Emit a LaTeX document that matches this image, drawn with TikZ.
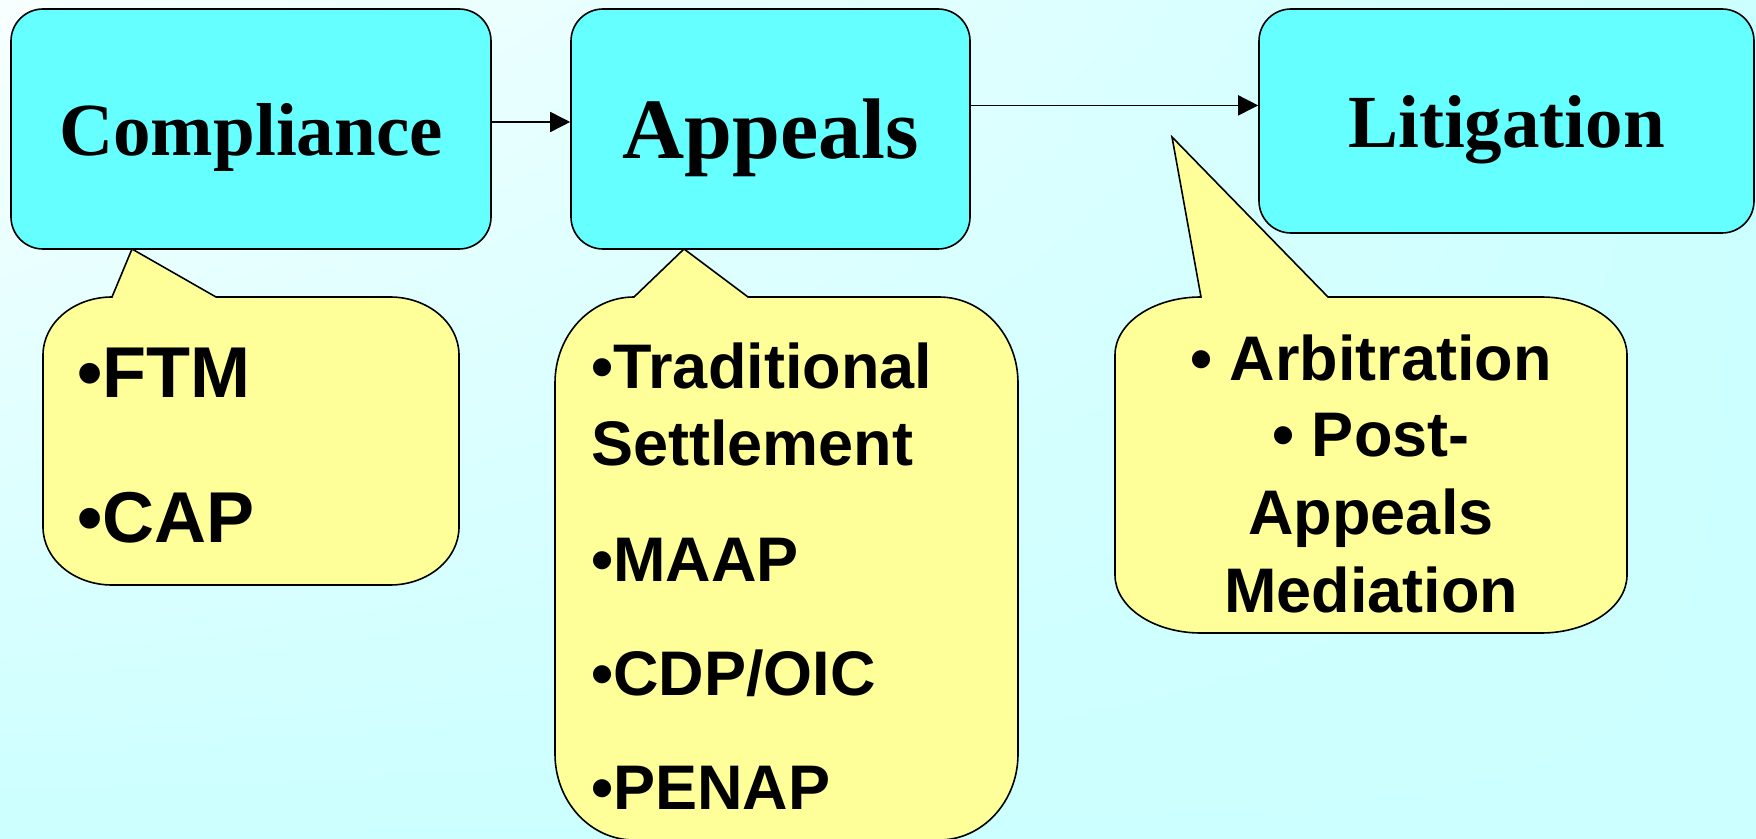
\documentclass[tikz,border=0pt]{standalone}
\usepackage{fontspec}
\setmainfont{Liberation Serif}
\setsansfont{Liberation Sans}
\usetikzlibrary{arrows.meta,shadings}

\definecolor{boxcyan}{HTML}{66FFFF}
\definecolor{noteyellow}{HTML}{FFFF99}
\definecolor{bgcyan}{HTML}{CCFFFF}
\definecolor{bglight}{HTML}{F8FFFF}

\begin{document}
\begin{tikzpicture}[x=0.5pt,y=-0.5pt,
  stage/.style={draw, line width=0.8pt, fill=boxcyan, rounded corners=16pt, text depth=0pt},
  note/.style={draw, line width=0.8pt, fill=noteyellow},
  item/.style={inner sep=0pt, font=\sffamily\bfseries\fontsize{31.5}{38}\selectfont},
  flow/.style={-{Triangle[length=10pt,width=10pt]}, line width=0.8pt}]
\shade[upper left=bglight, upper right=bgcyan, lower left=bgcyan, lower right=bgcyan] (0,0) rectangle (1756,839);
\useasboundingbox (0,0) rectangle (1756,839);

\draw[note, x radius=34.5pt, y radius=29pt] (112,297) -- (132,249) -- (216,297) -- (390,297)
  arc[start angle=90, end angle=0] -- (459,527) arc[start angle=0, end angle=-90] -- (112,585)
  arc[start angle=270, end angle=180] -- (43,355) arc[start angle=180, end angle=90] -- cycle;
\draw[note, x radius=39.5pt, y radius=43pt] (634,297) -- (684,249) -- (748,297) -- (939,297)
  arc[start angle=90, end angle=0] -- (1018,754) arc[start angle=0, end angle=-90] -- (634,840)
  arc[start angle=270, end angle=180] -- (555,383) arc[start angle=180, end angle=90] -- cycle;
\draw[note, x radius=43pt, y radius=29pt] (1201,297) -- (1172,137) -- (1328,297) -- (1541,297)
  arc[start angle=90, end angle=0] -- (1627,575) arc[start angle=0, end angle=-90] -- (1201,633)
  arc[start angle=270, end angle=180] -- (1115,355) arc[start angle=180, end angle=90] -- cycle;

\node[stage, minimum width=240pt, minimum height=120pt, text height=26.3pt, font=\bfseries\fontsize{37.5}{40}\selectfont] (comp) at (251,129) {Compliance};
\node[stage, minimum width=199.5pt, minimum height=120pt, text height=30pt, font=\bfseries\fontsize{43}{46}\selectfont] (app) at (770.5,129) {Appeals};
\node[stage, minimum width=247.5pt, minimum height=112pt, text height=26.3pt, font=\bfseries\fontsize{37.5}{40}\selectfont] (lit) at (1506.5,121) {Litigation};

\draw[flow] ([yshift=3.5pt]comp.east) -- ([yshift=3.5pt]app.west);
\draw[flow] ([yshift=11.8pt]app.east) -- ([yshift=11.8pt]app.east -| lit.west);

\node[item, anchor=base west, font=\sffamily\bfseries\fontsize{36}{40}\selectfont] (ftm) at (77,398) {•FTM};
\node[item, anchor=base west, font=\sffamily\bfseries\fontsize{36}{40}\selectfont] (cap) at (77,542) {•CAP};

\node[item, anchor=base west] (trad) at (591,389) {•Traditional};
\node[item, anchor=base west] (settle) at (591,466) {Settlement};
\node[item, anchor=base west] (maap) at (591,581) {•MAAP};
\node[item, anchor=base west] (cdp) at (591,695) {•CDP/OIC};
\node[item, anchor=base west] (penap) at (591,809) {•PENAP};

\node[item, anchor=base] (arb) at (1371,381) {• Arbitration};
\node[item, anchor=base] (post) at (1371,457) {• Post-};
\node[item, anchor=base] (postapp) at (1371,534) {Appeals};
\node[item, anchor=base] (med) at (1371,612) {Mediation};
\end{tikzpicture}
\end{document}
